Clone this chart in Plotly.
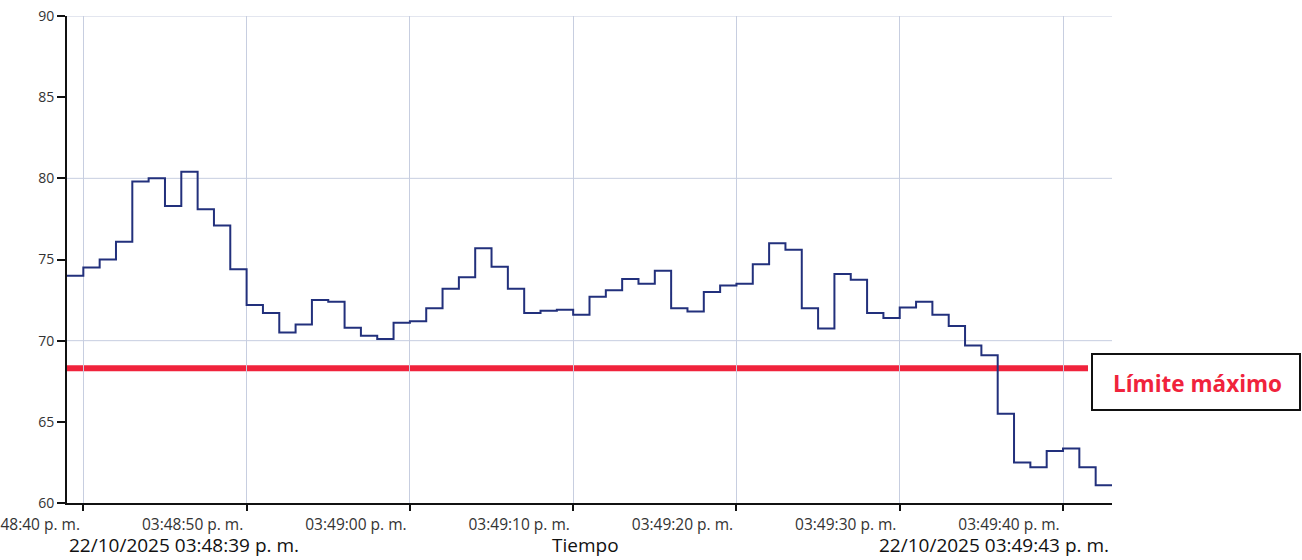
import pandas as pd
import plotly.graph_objects as go

# ---------------- data ----------------
START_TIME = "2025-10-22 15:48:39"
END_TIME = "2025-10-22 15:49:43"
VALUES = [
    74.0, 74.5, 75.0, 76.1, 79.8, 80.0, 78.3, 80.4, 78.1, 77.1,
    74.4, 72.2, 71.7, 70.5, 71.0, 72.5, 72.4, 70.8, 70.3, 70.1,
    71.1, 71.2, 72.0, 73.2, 73.9, 75.7, 74.55, 73.2, 71.7, 71.85,
    71.9, 71.6, 72.7, 73.1, 73.8, 73.5, 74.3, 72.0, 71.8, 73.0,
    73.4, 73.5, 74.7, 76.0, 75.6, 72.0, 70.75, 74.1, 73.75, 71.7,
    71.4, 72.05, 72.4, 71.6, 70.9, 69.7, 69.1, 65.5, 62.5, 62.2,
    63.2, 63.35, 62.2, 61.1,
]
LIMIT = 68.3
LIMIT_LABEL = "Límite máximo"
TICK_TIMES = [
    "2025-10-22 15:48:40", "2025-10-22 15:48:50", "2025-10-22 15:49:00",
    "2025-10-22 15:49:10", "2025-10-22 15:49:20", "2025-10-22 15:49:30",
    "2025-10-22 15:49:40",
]
TICK_TEXT = [
    "03:48:40 p. m.", "03:48:50 p. m.", "03:49:00 p. m.", "03:49:10 p. m.",
    "03:49:20 p. m.", "03:49:30 p. m.", "03:49:40 p. m.",
]
Y_RANGE = [60, 90]
GRID_Y = [70, 80, 90]
X_TITLE = "Tiempo"
START_LABEL = "22/10/2025 03:48:39 p. m."
END_LABEL = "22/10/2025 03:49:43 p. m."

# ---------------- layout geometry ----------------
W, H = 1302, 560
ML, MR, MT, MB = 67, 190, 16, 57
PW = W - ML - MR
PH = H - MT - MB


def px_x(px):
    return (px - ML) / PW


def px_y(py):
    return (H - MB - py) / PH


FONT = "Open Sans, Noto Sans, DejaVu Sans, sans-serif"
GRID = "#c7cee0"
RED = "#f0233c"
BLUE = "#22307c"

times = list(pd.date_range(START_TIME, periods=len(VALUES), freq="s"))
xs = times + [pd.Timestamp(END_TIME)]
ys = VALUES + [VALUES[-1]]

fig = go.Figure()
fig.add_trace(go.Scatter(
    x=xs, y=ys, mode="lines", line=dict(color=BLUE, width=2, shape="hv"),
    showlegend=False, hoverinfo="skip",
))

shapes = []
for g in GRID_Y:
    shapes.append(dict(type="line", xref="paper", yref="y", x0=0, x1=1, y0=g, y1=g,
                       line=dict(color=GRID, width=1), layer="below"))
shapes.append(dict(type="line", xref="paper", yref="y", x0=0, x1=px_x(1088),
                   y0=LIMIT, y1=LIMIT, line=dict(color=RED, width=6), layer="between"))
shapes.append(dict(type="rect", xref="paper", yref="paper",
                   x0=px_x(1092), x1=px_x(1300), y0=px_y(410), y1=px_y(354),
                   line=dict(color="#111111", width=2), fillcolor="white", layer="above"))

annotations = [
    dict(text=LIMIT_LABEL, xref="paper", yref="paper", x=px_x(1197), y=px_y(383),
         xanchor="center", yanchor="middle", showarrow=False,
         font=dict(family=FONT, size=22.5, color=RED, weight="bold")),
    dict(text=START_LABEL, xref="paper", yref="paper", x=px_x(67), y=px_y(545),
         xanchor="left", yanchor="middle", showarrow=False,
         font=dict(family=FONT, size=19, color="#111111")),
    dict(text=X_TITLE, xref="paper", yref="paper", x=px_x(585), y=px_y(545),
         xanchor="center", yanchor="middle", showarrow=False,
         font=dict(family=FONT, size=19, color="#111111")),
    dict(text=END_LABEL, xref="paper", yref="paper", x=px_x(1111), y=px_y(545),
         xanchor="right", yanchor="middle", showarrow=False,
         font=dict(family=FONT, size=19, color="#111111")),
]

fig.update_layout(
    width=W, height=H,
    margin=dict(l=ML, r=MR, t=MT, b=MB, pad=0, autoexpand=False),
    paper_bgcolor="white", plot_bgcolor="white",
    shapes=shapes, annotations=annotations,
    showlegend=False,
    xaxis=dict(
        type="date", range=[START_TIME, END_TIME], automargin=False,
        tickmode="array", tickvals=TICK_TIMES, ticktext=TICK_TEXT,
        showgrid=True, gridcolor=GRID, gridwidth=1,
        ticks="outside", ticklen=6, tickwidth=2, tickcolor="#111111",
        showline=True, linecolor="#111111", linewidth=2,
        zeroline=False,
        ticklabelshift=-54, ticklabeloverflow="allow",
        tickfont=dict(family=FONT, size=15.5, color="#333333"),
    ),
    yaxis=dict(
        range=Y_RANGE, tick0=60, dtick=5, automargin=False,
        showgrid=False, zeroline=False,
        ticks="outside", ticklen=8, tickwidth=2, tickcolor="#111111",
        showline=True, linecolor="#111111", linewidth=2,
        tickfont=dict(family=FONT, size=14, color="#333333"),
    ),
)

fig.write_html(
    "out.html",
    config={"displayModeBar": False},
    post_script="document.body.style.margin='0';document.body.style.overflow='hidden';",
)
